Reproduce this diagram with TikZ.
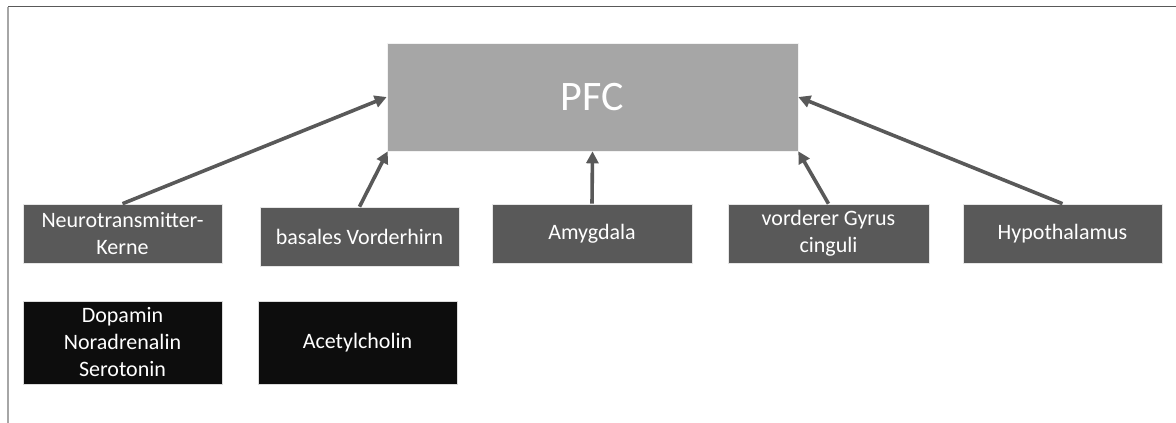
\documentclass[tikz,border=0pt]{standalone}
\usepackage{fontspec}
\setmainfont{Carlito}
\usetikzlibrary{arrows.meta}
\definecolor{dgray}{HTML}{595959}
\definecolor{lgray}{HTML}{A6A6A6}
\definecolor{nblack}{HTML}{0D0D0D}
\tikzset{
  region/.style={rectangle, fill=dgray, draw=white!85!dgray, line width=0.6pt, text=white, font=\fontsize{22}{27}\selectfont, align=center, minimum width=199pt, minimum height=59pt, inner sep=0pt},
  transm/.style={rectangle, fill=nblack, draw=white!85!nblack, line width=0.6pt, text=white, font=\fontsize{22}{27}\selectfont, align=center, minimum width=199pt, minimum height=83pt, inner sep=0pt},
  pfcbox/.style={rectangle, fill=lgray, draw=white!85!lgray, line width=0.6pt, text=white, font=\fontsize{42}{50}\selectfont, minimum width=411pt, minimum height=108pt, inner sep=0pt},
  conn/.style={draw=dgray, line width=3.6pt, -{Triangle[length=12pt,width=12pt]}, shorten >=0pt}
}
\begin{document}
\begin{tikzpicture}[x=1pt,y=-1pt]
\useasboundingbox (0,0) rectangle (1176,423);
\draw[draw=dgray, line width=1.5pt] (8,6.5) -- (1176,6.5);
\draw[draw=lgray, line width=2pt] (8,6.5) -- (8,423);

\node[pfcbox] (pfc) at (592.5,97) {PFC};
\node[region] (nt) at (122.5,233.5) {Neurotransmitter-\\Kerne};
\node[region] (bv) at (359.5,236.5) {basales Vorderhirn};
\node[region, minimum width=200pt] (am) at (592,233.5) {Amygdala};
\node[region, minimum width=201pt] (gy) at (828.5,233.5) {vorderer Gyrus\\cinguli};
\node[region] (hy) at (1062.5,233.5) {Hypothalamus};
\node[transm] (dop) at (122.5,342.5) {Dopamin\\Noradrenalin\\Serotonin};
\node[transm] (ach) at (357.5,342.5) {Acetylcholin};

\draw[conn] (nt.north) -- (pfc.west);
\draw[conn] (bv.north) -- ([xshift=1pt]pfc.south west);
\draw[conn] (am.north) -- (pfc.south);
\draw[conn] (gy.north) -- (pfc.south east);
\draw[conn] (hy.north) -- (pfc.east);
\end{tikzpicture}
\end{document}
